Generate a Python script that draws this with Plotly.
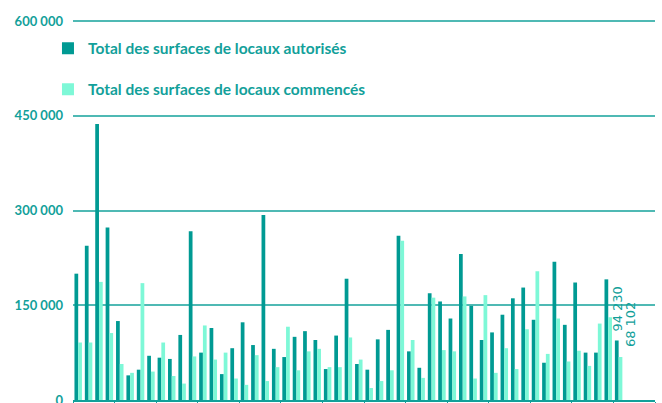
import plotly.graph_objects as go

# Quarterly periods (53 quarters shown, axis has room for 56)
periods = [f"A{i // 4 + 1} T{i % 4 + 1}" for i in range(53)]

autorises = [200000, 244000, 437000, 273000, 125000, 39000, 48000, 70000, 67000,
             65000, 103000, 267000, 75000, 114000, 41000, 82000, 123000, 87000,
             293000, 81000, 68000, 100000, 109000, 95000, 49000, 102000, 192000,
             57000, 48000, 96000, 111000, 260000, 77000, 51000, 169000, 156000,
             129000, 231000, 149000, 95000, 107000, 135000, 161000, 178000, 127000,
             59000, 219000, 119000, 186000, 75000, 75000, 191000, 94230]

commences = [91000, 91000, 187000, 106000, 57000, 43000, 185000, 45000, 91000,
             38000, 26000, 69000, 118000, 64000, 75000, 34000, 24000, 71000,
             30000, 52000, 116000, 47000, 77000, 81000, 52000, 52000, 99000,
             64000, 19000, 30000, 47000, 252000, 95000, 35000, 162000, 79000,
             77000, 164000, 34000, 166000, 43000, 82000, 49000, 112000, 204000,
             73000, 129000, 61000, 78000, 54000, 121000, 131000, 68102]

y_ticks = [0, 150000, 300000, 450000, 600000]
y_tick_labels = ["0", "150 000", "300 000", "450 000", "600 000"]

TEAL = "#12A09A"
DARK = "#009A93"
LIGHT = "#7EF8D7"


def fmt(v):
    return f"{v:,}".replace(",", " ")


fig = go.Figure()
fig.add_bar(x=periods, y=autorises, name="Total des surfaces de locaux autorisés",
            marker=dict(color=DARK, line=dict(width=0)), legendgroup="a")
fig.add_bar(x=periods, y=commences, name="Total des surfaces de locaux commencés",
            marker=dict(color=LIGHT, line=dict(width=0)), legendgroup="b")

fig.add_annotation(x=periods[-1], y=autorises[-1], text=fmt(autorises[-1]),
                   textangle=-90, showarrow=False, xanchor="center", yanchor="bottom",
                   xshift=-1.5, yshift=7, font=dict(family="DejaVu Sans", size=13, color=TEAL))
fig.add_annotation(x=periods[-1], y=commences[-1], text=fmt(commences[-1]),
                   textangle=-90, showarrow=False, xanchor="center", yanchor="bottom",
                   xshift=12.5, yshift=8, font=dict(family="DejaVu Sans", size=13, color=TEAL))

fig.update_layout(
    width=662, height=403,
    margin=dict(l=73, r=7, t=17, b=3, pad=0, autoexpand=False),
    paper_bgcolor="white", plot_bgcolor="white",
    barmode="group", bargap=0.28, bargroupgap=0,
    showlegend=True,
    legend=dict(x=-0.043, y=0.962, xanchor="left", yanchor="top",
                traceorder="grouped", tracegroupgap=18,
                bgcolor="rgba(0,0,0,0)",
                font=dict(family="Lato", size=15.5, color=TEAL, weight="bold")),
    xaxis=dict(type="category", range=[-0.5, 55.5], showgrid=False, automargin=False,
               showline=True, linecolor=TEAL, linewidth=1.5,
               ticks="outside", ticklen=4, tickcolor=TEAL, tickwidth=1,
               tickson="boundaries", dtick=4, tick0=0, showticklabels=False,
               zeroline=False),
    yaxis=dict(range=[0, 606332], tickvals=y_ticks, ticktext=y_tick_labels,
               showgrid=True, gridcolor="#4FB9B4", gridwidth=1.5, automargin=False,
               zeroline=False, showline=False, ticks="",
               ticklabelstandoff=9, ticklabeloverflow="allow",
               tickfont=dict(family="Lato", size=13, color=TEAL, weight="bold")),
)

fig.write_html("out.html", config={"displayModeBar": False},
               post_script="document.body.style.margin='0';")
